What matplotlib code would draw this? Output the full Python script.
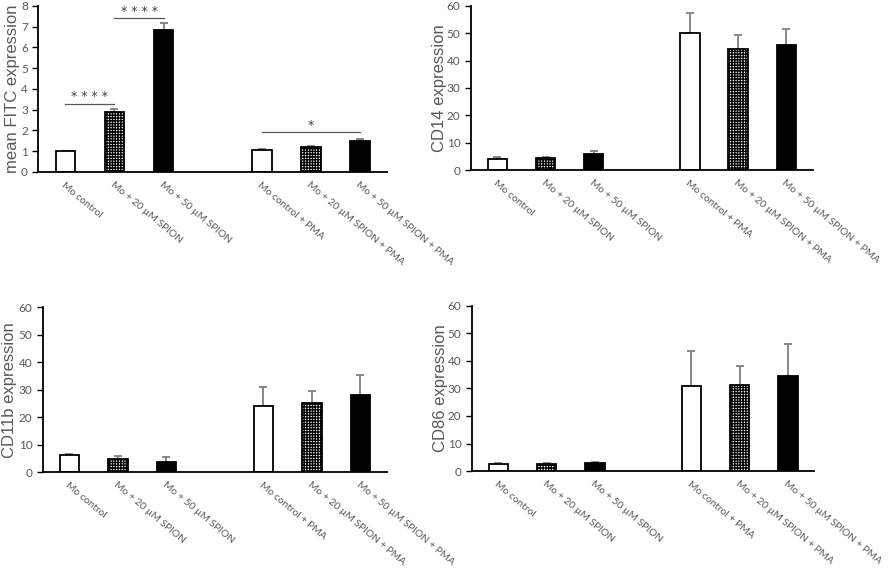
import matplotlib
matplotlib.use("Agg")
import matplotlib.pyplot as plt
import numpy as np

# conditions (one empty slot between the two groups)
labels = ["Mo control", "Mo + 20 µM SPION", "Mo + 50 µM SPION",
          "Mo control + PMA", "Mo + 20 µM SPION + PMA", "Mo + 50 µM SPION + PMA"]
slots = [0, 1, 2, 4, 5, 6]

fitc = [1.0, 2.9, 6.83, 1.04, 1.18, 1.49]
fitc_err = [0.02, 0.15, 0.32, 0.06, 0.05, 0.11]

cd14 = [4.1, 4.4, 6.0, 49.9, 44.3, 45.5]
cd14_err = [0.7, 0.5, 1.0, 7.3, 5.2, 6.0]

cd11b = [6.06, 4.85, 3.76, 23.9, 25.3, 27.9]
cd11b_err = [0.5, 1.0, 1.6, 6.9, 4.3, 7.3]

cd86 = [2.66, 2.66, 2.9, 30.8, 31.1, 34.5]
cd86_err = [0.2, 0.2, 0.2, 12.9, 7.2, 11.7]

GRAY = "#595959"
plt.rcParams["hatch.linewidth"] = 1.0


def draw_panel(ax, values, errors, ylabel, ymax, ystep, pad):
    """draws one bar panel in Excel style"""
    faces = ["white", "white", "black"] * 2
    hatches = [None, "++++++", None] * 2
    for s, v, f, h in zip(slots, values, faces, hatches):
        ax.bar(s, v, width=0.4, color=f, edgecolor="black", linewidth=1.3,
               hatch=h, zorder=2)
    ax.errorbar(slots, values, yerr=[np.zeros(len(values)), errors], fmt="none",
                ecolor="#7f7f7f", elinewidth=1.3, capsize=3, capthick=1.3, zorder=1)
    ax.set_xlim(-0.55, 6.55)
    ax.set_ylim(0, ymax)
    ax.set_yticks(np.arange(0, ymax + 0.01, ystep))
    ax.set_xticks(slots)
    ax.set_xticklabels(labels, rotation=-40, ha="left", va="top",
                       rotation_mode="anchor", fontsize=7.4, color=GRAY,
                       family="Lato")
    ax.tick_params(axis="x", length=0, pad=6)
    ax.tick_params(axis="y", length=4, width=1, labelsize=8.5, labelcolor=GRAY)
    for lab in ax.get_yticklabels():
        lab.set_family("Lato")
    ax.spines["top"].set_visible(False)
    ax.spines["right"].set_visible(False)
    ax.spines["left"].set_linewidth(1.3)
    ax.spines["bottom"].set_linewidth(1.3)
    ax.set_ylabel(ylabel, fontsize=12, color=GRAY, family="Liberation Sans", labelpad=pad)


fig = plt.figure(figsize=(8.92, 5.73), dpi=100)
ax1 = fig.add_axes([0.043, 0.700, 0.391, 0.290])
ax2 = fig.add_axes([0.528, 0.703, 0.383, 0.287])
ax3 = fig.add_axes([0.048, 0.176, 0.386, 0.288])
ax4 = fig.add_axes([0.529, 0.178, 0.384, 0.288])

draw_panel(ax1, fitc, fitc_err, "mean FITC expression", 8, 1, 1)
draw_panel(ax2, cd14, cd14_err, "CD14 expression", 60, 10, 0)
draw_panel(ax3, cd11b, cd11b_err, "CD11b expression", 60, 10, 1)
draw_panel(ax4, cd86, cd86_err, "CD86 expression", 60, 10, 0)

# significance marks on the FITC panel
sig = [(0, 1, 3.28, "* * * *"), (1, 2, 7.41, "* * * *"), (4, 6, 1.92, "*")]
for a, b, y, txt in sig:
    ax1.plot([a, b], [y, y], color=GRAY, linewidth=0.9, zorder=3)
    ax1.text((a + b) / 2, y + 0.02, txt, ha="center", va="bottom",
             fontsize=9, color="#404040")

fig.savefig("out.png", dpi=100)
